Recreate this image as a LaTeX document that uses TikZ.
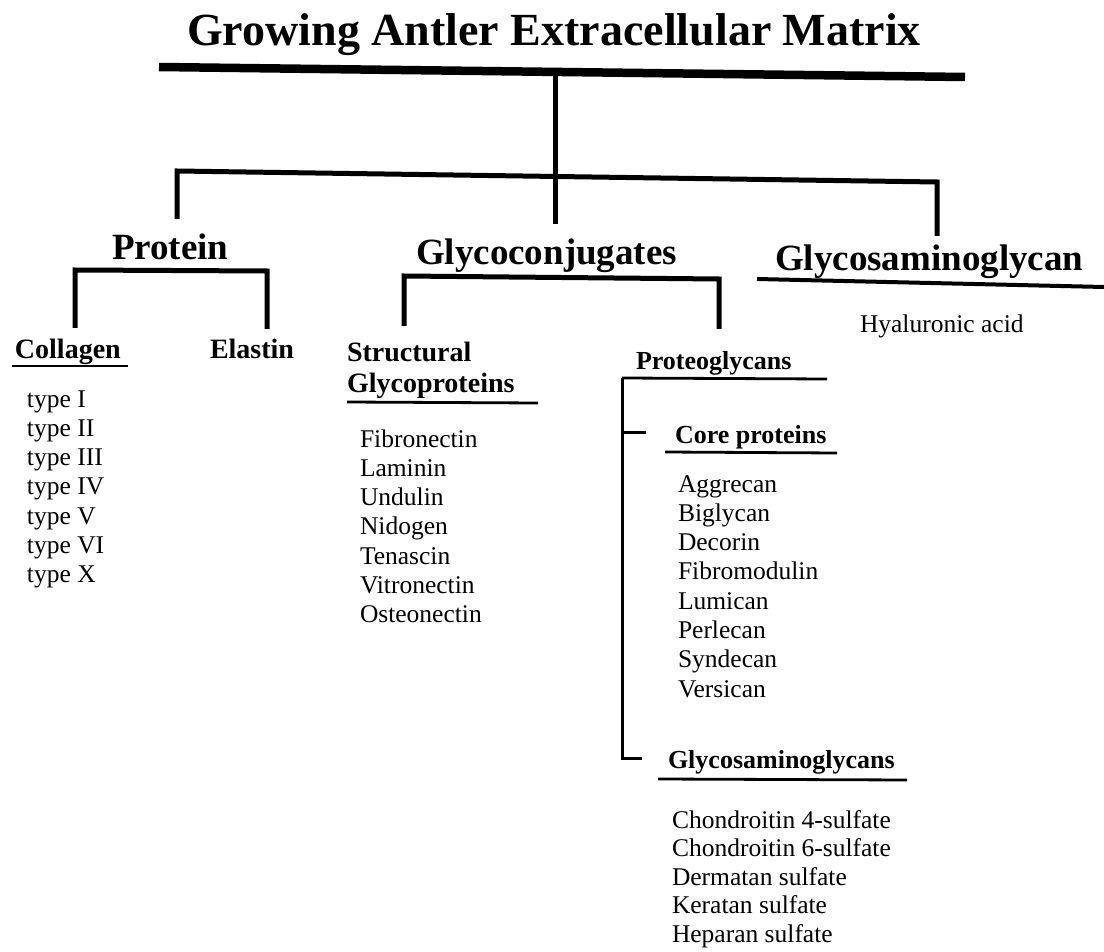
\documentclass[tikz,border=0pt]{standalone}
\usepackage{fontspec}
\setmainfont{Liberation Serif}
\begin{document}
\begin{tikzpicture}[x=1pt,y=-1pt,
  every node/.style={inner sep=0pt,outer sep=0pt},
  titletext/.style={anchor=base,font=\fontsize{46}{50}\selectfont\bfseries},
  headtwo/.style={anchor=base west,font=\fontsize{37}{40}\selectfont\bfseries},
  headthree/.style={anchor=base west,font=\fontsize{28}{30}\selectfont\bfseries},
  headsub/.style={anchor=base west,font=\fontsize{26}{29}\selectfont\bfseries},
  item/.style={anchor=base west,font=\fontsize{25.5}{29}\selectfont},
  barline/.style={line width=8.5pt},
  branch/.style={line width=5pt},
  thinline/.style={line width=3pt},
  uline/.style={line width=2.8pt}]
\useasboundingbox (0,0) rectangle (1104,952);

% title
\node[titletext] (title) at (554,46) {Growing Antler Extracellular Matrix};
\coordinate (barL) at (159,67);
\coordinate (barR) at (965,77);
\draw[barline] (barL) -- (barR);

% main stem and branch
\coordinate (stemTop) at (555,72);
\coordinate (stemBot) at (555,224);
\draw[branch] (stemTop) -- (stemBot);
\coordinate (brL) at (177,171);
\coordinate (brR) at (937,182);
\coordinate (brLb) at (177,219);
\coordinate (brRb) at (937,236);
\draw[branch] (brLb) -- (brL) -- (brR) -- (brRb);

% level two headings
\node[headtwo] (protein) at (112,260) {Protein};
\node[headtwo] (glyco) at (416,265) {Glycoconjugates};
\node[headtwo] (gag) at (775,271) {Glycosaminoglycan};
\coordinate (gagUL) at (757,279);
\coordinate (gagUR) at (1104,287);
\draw[line width=4pt] (gagUL) -- (gagUR);
\node[item] (hya) at (860,333) {Hyaluronic acid};

% protein bracket
\coordinate (pbL) at (75,328);
\coordinate (pbLt) at (75,270);
\coordinate (pbRt) at (267,271);
\coordinate (pbR) at (267,329);
\draw[branch] (pbL) -- (pbLt) -- (pbRt) -- (pbR);

% glycoconjugates bracket
\coordinate (gbL) at (404,326);
\coordinate (gbLt) at (404,276);
\coordinate (gbRt) at (719,279);
\coordinate (gbR) at (719,329);
\draw[branch] (gbL) -- (gbLt) -- (gbRt) -- (gbR);

% collagen / elastin
\node[headthree] (collagen) at (15,358) {Collagen};
\draw[uline] (12,366) coordinate (colUL) -- (128,366) coordinate (colUR);
\node[headthree] (elastin) at (210,358) {Elastin};
\foreach \t [count=\i] in {type I,type II,type III,type IV,type V,type VI,type X}
  \node[item] (col\i) at ({27},{407+29.3*(\i-1)}) {\t};

% structural glycoproteins
\node[headthree] (struct) at (347,362) {Structural};
\node[headthree] (sgp) at (347,392) {Glycoproteins};
\coordinate (sgUL) at (347,402);
\coordinate (sgUR) at (538,403);
\draw[uline] (sgUL) -- (sgUR);
\foreach \t [count=\i] in {Fibronectin,Laminin,Undulin,Nidogen,Tenascin,Vitronectin,Osteonectin}
  \node[item] (sg\i) at ({360},{447+29.3*(\i-1)}) {\t};

% proteoglycans
\node[headsub] (pg) at (636,370) {Proteoglycans};
\coordinate (pgUL) at (622,378);
\coordinate (pgUR) at (827,379);
\draw[uline] (pgUL) -- (pgUR);
\coordinate (pgBot) at (622,758);
\coordinate (pgBotR) at (642,758);
\draw[thinline] (pgUL) -- (pgBot) -- (pgBotR);
\coordinate (tickL) at (622,432);
\coordinate (tickR) at (646,432);
\draw[thinline] (tickL) -- (tickR);

\node[headsub] (core) at (675,443) {Core proteins};
\coordinate (coreUL) at (665,452);
\coordinate (coreUR) at (837,453);
\draw[uline] (coreUL) -- (coreUR);
\foreach \t [count=\i] in {Aggrecan,Biglycan,Decorin,Fibromodulin,Lumican,Perlecan,Syndecan,Versican}
  \node[item] (core\i) at ({678},{492+29.3*(\i-1)}) {\t};

\node[headsub] (gags) at (668,768) {Glycosaminoglycans};
\coordinate (gagsUL) at (658,779);
\coordinate (gagsUR) at (907,780);
\draw[uline] (gagsUL) -- (gagsUR);
\foreach \t [count=\i] in {Chondroitin 4-sulfate,Chondroitin 6-sulfate,Dermatan sulfate,Keratan sulfate,Heparan sulfate}
  \node[item] (gl\i) at ({672},{828+28.6*(\i-1)}) {\t};
\end{tikzpicture}
\end{document}
